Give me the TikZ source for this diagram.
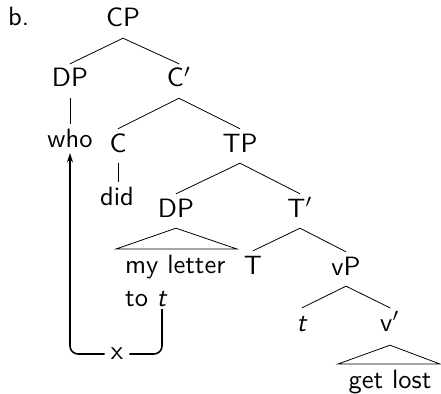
\documentclass[tikz,border=0pt]{standalone}
\usetikzlibrary{arrows.meta,calc}
\newcommand\bigtx[1]{\scalebox{2.65}{\sffamily\fontsize{10}{12}\selectfont #1}}
\begin{document}
\begin{tikzpicture}[x=1pt,y=-1pt,
  lab/.style={anchor=base,inner xsep=0pt,inner ysep=6pt,text height=17pt,text depth=5pt},
  branch/.style={line width=0.8pt},
  move/.style={line width=1.6pt,rounded corners=8pt},
  tip/.style={-{Stealth[length=9pt,width=6pt]}}]
\useasboundingbox (0,0) rectangle (441,393);

% labels
\node[anchor=base west,inner sep=0pt] (ex) at (8,26) {\bigtx{b.}};
\node[lab] (cp) at (123,27) {\bigtx{CP}};
\node[lab] (dpa) at (70,87) {\bigtx{DP}};
\node[lab] (cbar) at (179,87) {\bigtx{C$'$}};
\node[lab] (who) at (70,147) {\bigtx{who}};
\node[lab] (c) at (118,152) {\bigtx{C}};
\node[lab] (tp) at (240,152) {\bigtx{TP}};
\node[lab] (did) at (117,205) {\bigtx{did}};
\node[lab] (dpb) at (176,217) {\bigtx{DP}};
\node[lab] (tbar) at (300,217) {\bigtx{T$'$}};
\node[lab,anchor=base west] (letter) at (125,273) {\bigtx{my letter}};
\node[lab] (t) at (253,274) {\bigtx{T}};
\node[lab] (vp) at (346,275) {\bigtx{vP}};
\node[lab,anchor=base west] (to) at (125,306) {\bigtx{to}};
\node[lab] (trace) at (162,306) {\bigtx{\textit{t}}};
\node[lab] (vtrace) at (302,331) {\bigtx{\textit{t}}};
\node[lab] (vbar) at (390,331) {\bigtx{v$'$}};
\node[lab] (getlost) at (390,388) {\bigtx{get lost}};
\node[inner xsep=6pt,inner ysep=2pt] (xm) at (117,354) {\bigtx{x}};

% branches
\draw[branch] (dpa.north) -- (cp.south) -- (cbar.north);
\draw[branch] (dpa.south) -- (who.north);
\draw[branch] (c.north) -- (cbar.south) -- (tp.north);
\draw[branch] (c.south) -- (c.south |- did.north);
\draw[branch] (dpb.north) -- (tp.south) -- (tbar.north);
\draw[branch] (t.north) -- (tbar.south) -- (vp.north);
\draw[branch] (vtrace.north) -- (vp.south) -- (vbar.north);

% triangles
\coordinate (dpl) at (116,249);
\coordinate (dpr) at (237,249);
\draw[branch] (dpb.south) -- (dpl) -- (dpr) -- cycle;
\coordinate (vl) at (338,364);
\coordinate (vr) at (440,364);
\draw[branch] ([yshift=-3pt]vbar.south) -- (vl) -- (vr) -- cycle;

% movement path
\draw[move,tip] (xm.west) -| ([yshift=5pt]who.south);
\draw[move] (xm.east) -| ([yshift=-3pt]trace.base);
\end{tikzpicture}
\end{document}
